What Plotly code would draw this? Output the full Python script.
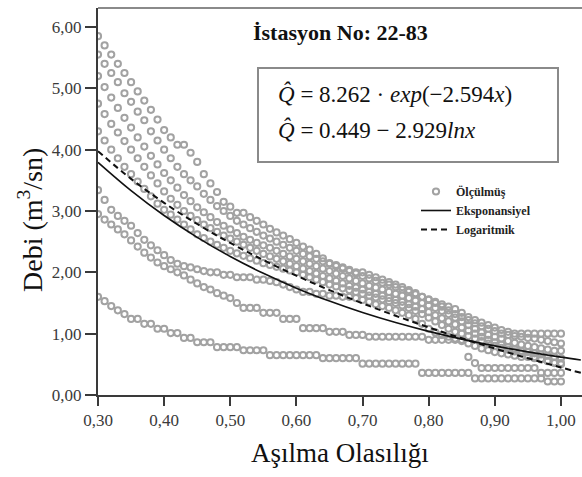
import plotly.graph_objects as go

# Exceedance probability (x) shared by all observed series
PROB = [0.30, 0.31, 0.32, 0.33, 0.34, 0.35, 0.36, 0.37, 0.38, 0.39,
        0.40, 0.41, 0.42, 0.43, 0.44, 0.45, 0.46, 0.47, 0.48, 0.49,
        0.50, 0.51, 0.52, 0.53, 0.54, 0.55, 0.56, 0.57, 0.58, 0.59,
        0.60, 0.61, 0.62, 0.63, 0.64, 0.65, 0.66, 0.67, 0.68, 0.69,
        0.70, 0.71, 0.72, 0.73, 0.74, 0.75, 0.76, 0.77, 0.78, 0.79,
        0.80, 0.81, 0.82, 0.83, 0.84, 0.85, 0.86, 0.87, 0.88, 0.89,
        0.90, 0.91, 0.92, 0.93, 0.94, 0.95, 0.96, 0.97, 0.98, 0.99,
        1.00]

# Observed flows (m3/s), one list per year
Q_A = [1.60, 1.53, 1.45, 1.38, 1.32, 1.24, 1.24, 1.16, 1.16, 1.08,
       1.08, 1.01, 1.01, 0.93, 0.93, 0.86, 0.86, 0.86, 0.78, 0.78,
       0.78, 0.78, 0.73, 0.73, 0.73, 0.73, 0.65, 0.65, 0.65, 0.65,
       0.65, 0.65, 0.65, 0.65, 0.60, 0.60, 0.60, 0.60, 0.60, 0.60,
       0.51, 0.51, 0.51, 0.51, 0.51, 0.51, 0.51, 0.51, 0.51, 0.36,
       0.36, 0.36, 0.36, 0.36, 0.36, 0.36, 0.36, 0.27, 0.27, 0.27,
       0.27, 0.27, 0.27, 0.27, 0.27, 0.27, 0.27, 0.27, 0.22, 0.22,
       0.22]
Q_B = [3.34, 3.18, 3.02, 2.92, 2.84, 2.76, 2.64, 2.53, 2.44, 2.36,
       2.28, 2.20, 2.14, 2.10, 2.08, 2.05, 2.02, 2.00, 2.00, 1.96,
       1.96, 1.92, 1.92, 1.92, 1.88, 1.88, 1.86, 1.84, 1.80, 1.76,
       1.72, 1.68, 1.68, 1.65, 1.65, 1.62, 1.62, 1.60, 1.60, 1.58,
       1.55, 1.52, 1.48, 1.45, 1.42, 1.38, 1.34, 1.30, 1.24, 1.16,
       1.08, 1.02, 0.98, 0.95, 0.92, 0.88, 0.84, 0.80, 0.76, 0.73,
       0.70, 0.68, 0.66, 0.64, 0.62, 0.62, 0.60, 0.58, 0.55, 0.52,
       0.52]
Q_C = [2.95, 2.86, 2.78, 2.70, 2.62, 2.52, 2.42, 2.32, 2.24, 2.16,
       2.10, 2.05, 2.00, 1.95, 1.88, 1.82, 1.76, 1.72, 1.66, 1.62,
       1.58, 1.50, 1.42, 1.42, 1.42, 1.34, 1.34, 1.34, 1.24, 1.24,
       1.24, 1.09, 1.09, 1.09, 1.09, 1.03, 1.03, 1.03, 0.98, 0.98,
       0.98, 0.95, 0.95, 0.95, 0.95, 0.95, 0.95, 0.95, 0.95, 0.95,
       0.90, 0.90, 0.90, 0.90, 0.90, 0.90, 0.62, 0.52, 0.44, 0.44,
       0.44, 0.44, 0.44, 0.44, 0.44, 0.44, 0.44, 0.36, 0.36, 0.36,
       0.36]
Q_D = [5.85, 5.70, 5.55, 5.40, 5.25, 5.10, 4.95, 4.80, 4.65, 4.49,
       4.32, 4.20, 4.08, 4.08, 3.95, 3.80, 3.60, 3.45, 3.31, 3.15,
       3.07, 2.97, 2.97, 2.90, 2.84, 2.78, 2.71, 2.65, 2.60, 2.54,
       2.48, 2.42, 2.37, 2.30, 2.23, 2.15, 2.12, 2.08, 2.04, 2.00,
       2.00, 1.96, 1.92, 1.88, 1.84, 1.80, 1.76, 1.71, 1.66, 1.60,
       1.55, 1.52, 1.48, 1.44, 1.40, 1.34, 1.27, 1.22, 1.18, 1.14,
       1.10, 1.06, 1.03, 1.00, 1.00, 1.00, 1.00, 1.00, 1.00, 1.00,
       1.00]
Q_E = [5.55, 5.40, 5.25, 5.10, 4.92, 4.78, 4.62, 4.48, 4.30, 4.15,
       4.00, 3.86, 3.72, 3.60, 3.50, 3.40, 3.28, 3.18, 3.08, 3.00,
       2.92, 2.84, 2.78, 2.72, 2.66, 2.60, 2.55, 2.50, 2.45, 2.40,
       2.35, 2.30, 2.26, 2.22, 2.18, 2.14, 2.10, 2.06, 2.02, 1.98,
       1.94, 1.90, 1.86, 1.83, 1.80, 1.76, 1.72, 1.68, 1.64, 1.60,
       1.56, 1.50, 1.44, 1.38, 1.32, 1.27, 1.22, 1.17, 1.12, 1.08,
       1.04, 1.00, 0.98, 0.96, 0.95, 0.93, 0.92, 0.90, 0.88, 0.86,
       0.84]
Q_F = [5.20, 5.02, 4.85, 4.68, 4.52, 4.36, 4.20, 4.05, 3.90, 3.76,
       3.62, 3.50, 3.38, 3.26, 3.16, 3.06, 2.98, 2.90, 2.82, 2.76,
       2.70, 2.64, 2.58, 2.53, 2.48, 2.44, 2.40, 2.35, 2.30, 2.26,
       2.22, 2.18, 2.14, 2.10, 2.06, 2.02, 1.98, 1.94, 1.90, 1.86,
       1.82, 1.78, 1.75, 1.72, 1.68, 1.65, 1.62, 1.58, 1.54, 1.50,
       1.46, 1.42, 1.37, 1.32, 1.26, 1.20, 1.14, 1.08, 1.02, 0.98,
       0.95, 0.92, 0.88, 0.85, 0.82, 0.80, 0.78, 0.76, 0.74, 0.72,
       0.72]
Q_G = [4.75, 4.58, 4.42, 4.28, 4.14, 4.00, 3.86, 3.72, 3.58, 3.45,
       3.32, 3.20, 3.10, 3.00, 2.92, 2.85, 2.78, 2.72, 2.66, 2.60,
       2.55, 2.50, 2.45, 2.40, 2.35, 2.30, 2.26, 2.22, 2.18, 2.14,
       2.10, 2.06, 2.02, 1.98, 1.94, 1.90, 1.86, 1.82, 1.78, 1.75,
       1.72, 1.68, 1.65, 1.62, 1.58, 1.55, 1.52, 1.48, 1.44, 1.40,
       1.35, 1.30, 1.25, 1.20, 1.15, 1.10, 1.05, 1.00, 0.95, 0.90,
       0.86, 0.82, 0.78, 0.75, 0.72, 0.70, 0.68, 0.66, 0.64, 0.62,
       0.60]
Q_H = [4.30, 4.15, 4.00, 3.86, 3.72, 3.60, 3.48, 3.36, 3.24, 3.12,
       3.02, 2.94, 2.86, 2.78, 2.70, 2.62, 2.56, 2.50, 2.45, 2.40,
       2.35, 2.31, 2.27, 2.23, 2.19, 2.15, 2.12, 2.09, 2.06, 2.03,
       2.00, 1.96, 1.92, 1.88, 1.84, 1.80, 1.77, 1.74, 1.71, 1.68,
       1.65, 1.62, 1.59, 1.56, 1.53, 1.50, 1.46, 1.42, 1.37, 1.32,
       1.26, 1.20, 1.14, 1.08, 1.03, 1.00, 0.96, 0.92, 0.88, 0.84,
       0.80, 0.77, 0.74, 0.71, 0.68, 0.65, 0.62, 0.59, 0.56, 0.53,
       0.50]

OBSERVED = [Q_A, Q_B, Q_C, Q_D, Q_E, Q_F, Q_G, Q_H]

# Fitted curves
FIT_X = [0.30, 0.35, 0.40, 0.45, 0.50, 0.55, 0.60, 0.65, 0.70, 0.75,
         0.80, 0.85, 0.90, 0.95, 1.00, 1.03]
EXP_Q = [3.794, 3.333, 2.927, 2.571, 2.258, 1.984, 1.742, 1.531, 1.344, 1.181,
         1.037, 0.911, 0.801, 0.703, 0.617, 0.571]
LOG_Q = [3.975, 3.524, 3.133, 2.788, 2.479, 2.200, 1.945, 1.711, 1.494, 1.292,
         1.102, 0.925, 0.758, 0.599, 0.449, 0.362]

X_TICKS = [0.30, 0.40, 0.50, 0.60, 0.70, 0.80, 0.90, 1.00]
X_TICK_TEXT = ["0,30", "0,40", "0,50", "0,60", "0,70", "0,80", "0,90", "1,00"]
Y_TICKS = [0, 1, 2, 3, 4, 5, 6]
Y_TICK_TEXT = ["0,00", "1,00", "2,00", "3,00", "4,00", "5,00", "6,00"]

SERIF = "Liberation Serif, Times New Roman, serif"
GRAY = "#a2a2a2"
AXIS = "#3a3a3a"

fig = go.Figure()
for i, q in enumerate(OBSERVED):
    fig.add_trace(go.Scatter(
        x=PROB, y=q, mode="markers",
        marker=dict(symbol="circle-open", size=6.2, color=GRAY, line=dict(width=2, color=GRAY)),
        name="<b>Ölçülmüş</b>", legendgroup="obs", showlegend=(i == 0),
    ))

fig.add_trace(go.Scatter(x=FIT_X, y=EXP_Q, mode="lines", line=dict(color="#111111", width=1.6, shape="spline"),
                         name="<b>Eksponansiyel</b>"))
fig.add_trace(go.Scatter(x=FIT_X, y=LOG_Q, mode="lines",
                         line=dict(color="#111111", width=2, dash="6px,4px", shape="spline"),
                         name="<b>Logaritmik</b>"))

L, R, T, B = 98, 0, 8, 82
W, H = 582, 477
PW, PH = W - L - R, H - T - B


def px(xp):
    return (xp - L) / PW


def py(yp):
    return (H - B - yp) / PH


fig.update_layout(
    width=W, height=H,
    margin=dict(l=L, r=R, t=T, b=B),
    paper_bgcolor="white", plot_bgcolor="white",
    font=dict(family=SERIF, color=AXIS),
    showlegend=True,
    legend=dict(x=px(416), y=py(177), xanchor="left", yanchor="top",
                font=dict(family=SERIF, size=12, color="#222222"),
                bgcolor="rgba(0,0,0,0)", itemwidth=30, tracegroupgap=0),
    xaxis=dict(range=[0.30, 1.0318], tickvals=X_TICKS, ticktext=X_TICK_TEXT,
               showgrid=False, zeroline=False, showline=True, linecolor=AXIS, linewidth=2,
               ticks="outside", ticklen=9, tickwidth=2, tickcolor=AXIS,
               tickfont=dict(family=SERIF, size=17, color=AXIS)),
    yaxis=dict(range=[0, 6.31], tickvals=Y_TICKS, ticktext=Y_TICK_TEXT,
               showgrid=False, zeroline=False, showline=True, linecolor=AXIS, linewidth=2,
               ticks="outside", ticklen=11, tickwidth=2, tickcolor=AXIS,
               tickfont=dict(family=SERIF, size=17, color=AXIS)),
    shapes=[
        dict(type="line", xref="paper", yref="paper", x0=0, x1=1, y0=1, y1=1,
             line=dict(color="#8a8a8a", width=2)),
        dict(type="rect", xref="paper", yref="paper", x0=px(258), x1=px(558), y0=py(162), y1=py(68),
             line=dict(color="#8a8a8a", width=2), fillcolor="rgba(0,0,0,0)"),
    ],
    annotations=[
        dict(text="<b>İstasyon No: 22-83</b>", xref="paper", yref="paper", x=px(340), y=py(33),
             xanchor="center", yanchor="middle", showarrow=False,
             font=dict(family=SERIF, size=22, color="#111111")),
        dict(text="<i>Q\u0302</i> = 8.262 · <i>exp</i>(−2.594<i>x</i>)", xref="paper", yref="paper",
             x=px(276), y=py(94), xanchor="left", yanchor="middle", showarrow=False,
             font=dict(family=SERIF, size=23, color="#111111")),
        dict(text="<i>Q\u0302</i> = 0.449 − 2.929<i>lnx</i>", xref="paper", yref="paper",
             x=px(276), y=py(130), xanchor="left", yanchor="middle", showarrow=False,
             font=dict(family=SERIF, size=23, color="#111111")),
        dict(text="Aşılma Olasılığı", xref="paper", yref="paper", x=px(340), y=py(453),
             xanchor="center", yanchor="middle", showarrow=False,
             font=dict(family=SERIF, size=27, color="#111111")),
        dict(text="Debi (m<sup>3</sup>/sn)", xref="paper", yref="paper", x=px(30), y=py(220),
             xanchor="center", yanchor="middle", showarrow=False, textangle=-90,
             font=dict(family=SERIF, size=28, color="#111111")),
    ],
)

fig.write_html("out.html")
